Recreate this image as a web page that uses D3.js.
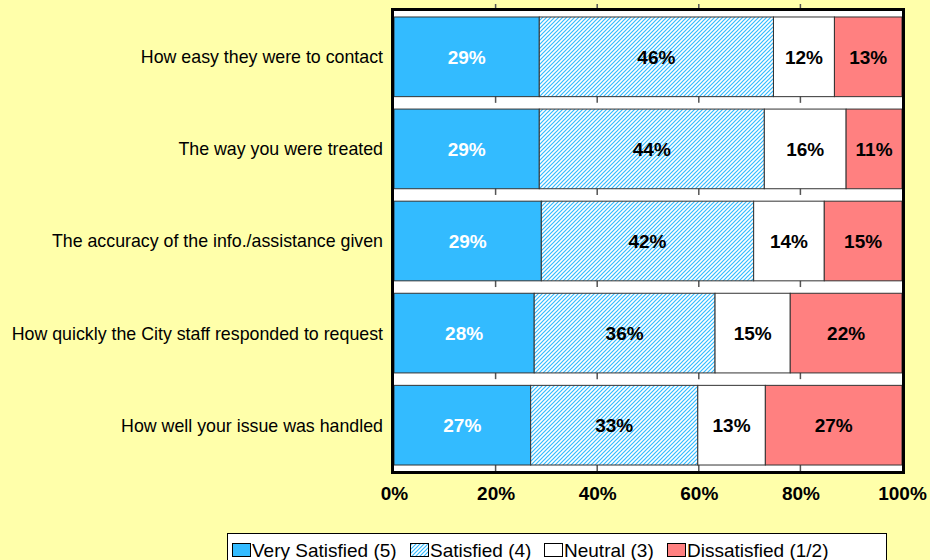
<!DOCTYPE html>
<html><head><meta charset="utf-8">
<script src="https://cdn.jsdelivr.net/npm/d3@7"></script>
<style>body{margin:0;background:#FFFFAA;}svg{display:block;font-family:Arial,"Liberation Sans",sans-serif;}</style>
</head><body><svg id="c" width="930" height="560"></svg>
<script>
const categories = [
  "How easy they were to contact",
  "The way you were treated",
  "The accuracy of the info./assistance given",
  "How quickly the City staff responded to request",
  "How well your issue was handled"
];
const seriesNames = ["Very Satisfied (5)", "Satisfied (4)", "Neutral (3)", "Dissatisfied (1/2)"];
const verySatisfied = [28.6, 28.6, 29.0, 27.6, 26.9];
const satisfied     = [46.1, 44.3, 41.8, 35.6, 32.9];
const neutral       = [12.0, 16.1, 13.9, 14.8, 13.3];
const dissatisfied  = [13.3, 11.0, 15.3, 22.0, 26.9];
const tickValues = [0, 0.2, 0.4, 0.6, 0.8, 1.0];

const svg = d3.select("#c");
const defs = svg.append("defs");
const pat = defs.append("pattern").attr("id","hatch").attr("patternUnits","userSpaceOnUse")
  .attr("width",4).attr("height",4);
pat.append("rect").attr("width",4).attr("height",4).attr("fill","#fff");
pat.append("path").attr("d","M-1,1 l2,-2 M0,4 l4,-4 M3,5 l2,-2").attr("stroke","#33BBFF").attr("stroke-width",1.2);

const fills = ["#33BBFF","url(#hatch)","#FFFFFF","#FF8080"];
const textColors = ["#FFFFFF","#000","#000","#000"];

const x = d3.scaleLinear().domain([0,1]).range([394,902]);
const y = d3.scaleBand().domain(categories).range([11,471]).paddingInner(0.135).paddingOuter(0.065);

// plot background
svg.append("rect").attr("x",394).attr("y",11).attr("width",508).attr("height",460).attr("fill","#fff");

// short ticks in the gaps at band boundaries
const gridG = svg.append("g");
d3.range(categories.length+1).forEach(i => {
  const by = i===0 ? 11 : (i===categories.length ? 471 : (y(categories[i-1]) + y.bandwidth() + y(categories[i]))/2);
  tickValues.slice(1,-1).forEach(t => {
    gridG.append("line").attr("x1",x(t)).attr("x2",x(t)).attr("y1",by-7).attr("y2",by)
      .attr("stroke","#555").attr("stroke-width",1.5);
  });
});

const data = categories.map((c,i) => {
  const vals = [verySatisfied[i], satisfied[i], neutral[i], dissatisfied[i]];
  const tot = d3.sum(vals);
  let acc = 0;
  return vals.map((v,k) => { const s = acc/tot; acc += v; return {cat:c,k,v,x0:s,x1:acc/tot}; });
});

const barG = svg.append("g");
data.flat().forEach(d => {
  barG.append("rect").attr("x",x(d.x0)).attr("y",y(d.cat)).attr("width",x(d.x1)-x(d.x0))
    .attr("height",y.bandwidth()).attr("fill",fills[d.k]).attr("stroke","#333").attr("stroke-width",1);
  barG.append("text").attr("x",(x(d.x0)+x(d.x1))/2).attr("y",y(d.cat)+y.bandwidth()/2)
    .attr("dy","0.36em").attr("text-anchor","middle").attr("font-weight","bold").attr("font-size",19)
    .attr("fill",textColors[d.k]).text(Math.round(d.v)+"%");
});

// border
svg.append("rect").attr("x",392.5).attr("y",9.5).attr("width",511).attr("height",463)
  .attr("fill","none").attr("stroke","#000").attr("stroke-width",3);

// category labels
svg.append("g").selectAll("text").data(categories).join("text")
  .attr("x",383).attr("y",d => y(d)+y.bandwidth()/2).attr("dy","0.36em")
  .attr("text-anchor","end").attr("font-size",17.8).attr("fill","#000").text(d=>d);

// x axis
const xAxis = d3.axisBottom(x).tickValues(tickValues).tickFormat(d3.format(".0%")).tickSize(0);
const ax = svg.append("g").attr("transform","translate(0,500)").call(xAxis);
ax.select(".domain").remove();
ax.selectAll("text").attr("font-size",19).attr("font-weight","bold").attr("fill","#000")
  .attr("font-family","Arial,'Liberation Sans',sans-serif").attr("y",0).attr("dy",0);

// legend
const lg = svg.append("g");
lg.append("rect").attr("x",227.5).attr("y",533.5).attr("width",659).attr("height",40)
  .attr("fill","#fff").attr("stroke","#000").attr("stroke-width",1);
const legX = [232, 410, 544, 667];
seriesNames.forEach((n,k) => {
  lg.append("rect").attr("x",legX[k]+0.5).attr("y",543.5).attr("width",18).attr("height",13)
    .attr("fill",fills[k]).attr("stroke","#000").attr("stroke-width",1);
  lg.append("text").attr("x",legX[k]+20).attr("y",556.5).attr("font-size",19).attr("fill","#000").text(n);
});
</script></body></html>
